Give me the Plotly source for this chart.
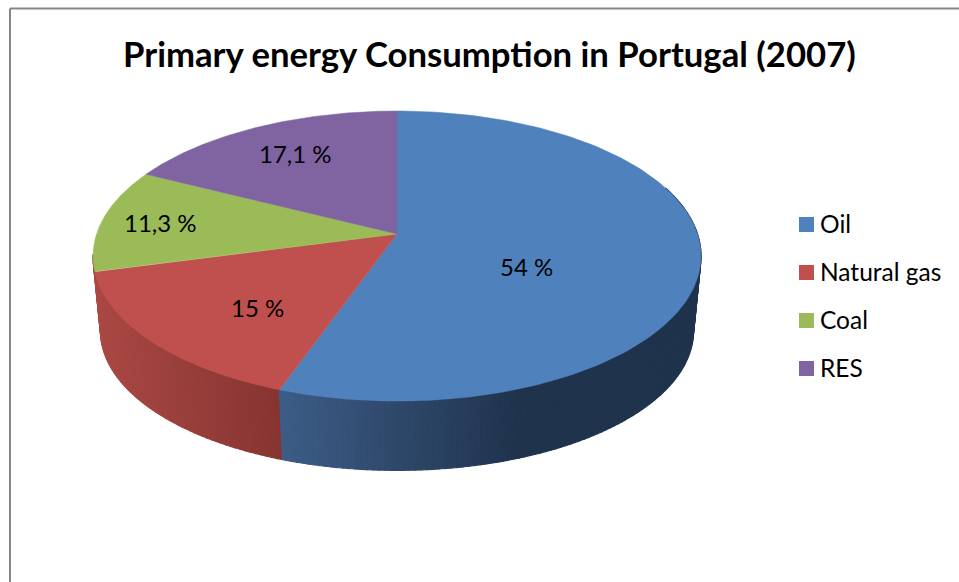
import numpy as np
import plotly.graph_objects as go

categories = ["Oil", "Natural gas", "Coal", "RES"]
values = [54, 15, 11.3, 17.1]
top_colors = ["#4f81bd", "#c0504d", "#9bbb59", "#8064a2"]
title = "Primary energy Consumption in Portugal (2007)"

# projection of the tilted disc into the pixel-like axes
CX, CY, A, B, K = 397, 234, 300.5, 141.7, 0.152
CY2, A2, B2 = 310, 293, 136

def top(theta):
    u, v = np.sin(theta), np.cos(theta)
    w = 1 + K * v
    return CX + A * u / w, CY - B * v / w

def bottom(theta):
    u, v = np.sin(theta), np.cos(theta)
    w = 1 + K * v
    return CX + A2 * u / w, CY2 - B2 * v / w

def mix(c1, c2, t):
    t = min(max(t, 0), 1)
    return "rgb(%d,%d,%d)" % tuple(round(a + (b - a) * t) for a, b in zip(c1, c2))

side_shades = [
    ((61, 93, 135), (31, 51, 77), 280, 520),
    ((170, 72, 68), (134, 52, 49), 95, 280),
]

fractions = np.array(values) / sum(values)
edges = np.concatenate([[0], np.cumsum(fractions)]) * 2 * np.pi

# the left silhouette of the wall lies just past the gas/coal edge
side_ends = [edges[1], np.radians(262)]

fig = go.Figure()

# side wall, drawn first so the top face hides the back part
for i in (1, 0):
    c1, c2, x0, x1 = side_shades[i]
    start, end = edges[i], side_ends[i]
    th = np.append(np.arange(start, end, np.radians(1.0)), end)
    if i == 0:
        th = th[::-1]          # draw from the right so each strip overlaps cleanly
    for a, b in zip(th[:-1], th[1:]):
        if np.cos((a + b) / 2) > 0.35:
            continue
        tx, ty = top(np.array([a, b]))
        bx, by = bottom(np.array([b, a]))
        col = mix(c1, c2, ((tx[0] + tx[1]) / 2 - x0) / (x1 - x0))
        fig.add_trace(go.Scatter(
            x=list(tx) + list(bx) + [tx[0]], y=list(ty) + list(by) + [ty[0]],
            mode="lines", fill="toself", fillcolor=col,
            line=dict(color=col, width=1.2), showlegend=False, hoverinfo="skip"))

# top face
for i, name in enumerate(categories):
    th = np.linspace(edges[i], edges[i + 1], 160)
    tx, ty = top(th)
    fig.add_trace(go.Scatter(
        x=[CX] + list(tx) + [CX], y=[CY] + list(ty) + [CY],
        mode="lines", fill="toself", fillcolor=top_colors[i],
        line=dict(color=top_colors[i], width=0.5), name=name,
        showlegend=False, hoverinfo="skip"))

FONT = "Lato, Carlito, Calibri, sans-serif"
label_pos = [(526, 266.5), (257, 307.5), (160, 222.5), (295, 153.5)]
anns = []
for v, (x, y) in zip(values, label_pos):
    anns.append(dict(x=x, y=y, text=f"{v:g} %".replace(".", ","), showarrow=False,
                     xanchor="center", yanchor="middle",
                     font=dict(family=FONT, size=24, color="black")))

legend_y = [224.5, 272.5, 320.5, 368.5]
fig.add_trace(go.Scatter(x=[806.5] * 4, y=legend_y, mode="markers",
                         marker=dict(symbol="square", size=15, color=top_colors, line=dict(width=0)),
                         showlegend=False, hoverinfo="skip"))
for name, y in zip(categories, legend_y):
    anns.append(dict(x=818, y=y - 1.2, text=name, showarrow=False, xanchor="left", yanchor="middle",
                     font=dict(family=FONT, size=24.5, color="black")))

anns.append(dict(x=489, y=53.5, text=f"<b>{title}</b>", showarrow=False,
                 xanchor="center", yanchor="middle",
                 font=dict(family=FONT, size=34.7, color="black")))

fig.update_layout(
    width=959, height=582, autosize=False,
    margin=dict(l=0, r=0, t=0, b=0),
    paper_bgcolor="white", plot_bgcolor="white",
    showlegend=False, annotations=anns,
    xaxis=dict(range=[0, 959], visible=False, fixedrange=True),
    yaxis=dict(range=[582, 0], visible=False, fixedrange=True),
    shapes=[
        dict(type="line", xref="x", yref="y", x0=10, x1=10, y0=8.5, y1=582, line=dict(color="#868686", width=2)),
        dict(type="line", xref="x", yref="y", x0=10, x1=959, y0=8.5, y1=8.5, line=dict(color="#868686", width=2)),
    ],
)
fig.write_html("out.html", config={"displayModeBar": False},
               post_script="document.body.style.margin='0';document.body.style.overflow='hidden';")
